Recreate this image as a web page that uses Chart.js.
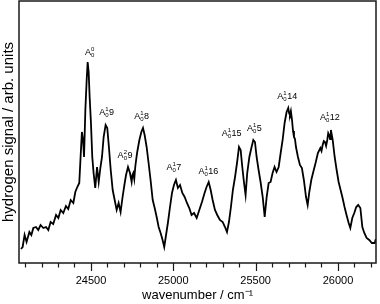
<!DOCTYPE html>
<html>
<head>
<meta charset="utf-8">
<script src="https://cdn.jsdelivr.net/npm/chart.js@4"></script>
<style>
  html, body { margin: 0; padding: 0; background: #fff; }
  #wrap { width: 380px; height: 304px; }
</style>
</head>
<body>
<div id="wrap"><canvas id="myChart"></canvas></div>
<script>
const wavenumber = [24075, 24085, 24097, 24109, 24126, 24138, 24150, 24166, 24180, 24194, 24211, 24227, 24241, 24255, 24271, 24288, 24302, 24316, 24332, 24348, 24362, 24377, 24393, 24405, 24417, 24429, 24437, 24445, 24452, 24458, 24466, 24474, 24480, 24486, 24492, 24500, 24508, 24516, 24526, 24537, 24547, 24557, 24567, 24577, 24589, 24599, 24609, 24620, 24632, 24644, 24656, 24668, 24680, 24692, 24703, 24713, 24725, 24737, 24747, 24752, 24757, 24763, 24769, 24775, 24781, 24794, 24806, 24816, 24826, 24838, 24850, 24862, 24875, 24887, 24899, 24911, 24923, 24935, 24945, 24956, 24968, 24980, 24992, 25004, 25016, 25028, 25041, 25055, 25069, 25083, 25097, 25111, 25126, 25142, 25158, 25174, 25190, 25202, 25215, 25227, 25239, 25253, 25267, 25283, 25300, 25314, 25326, 25338, 25350, 25362, 25375, 25387, 25399, 25409, 25419, 25429, 25439, 25449, 25462, 25474, 25486, 25496, 25506, 25518, 25530, 25543, 25555, 25567, 25579, 25591, 25603, 25615, 25627, 25640, 25652, 25664, 25676, 25688, 25698, 25703, 25708, 25714, 25721, 25727, 25733, 25739, 25745, 25757, 25769, 25781, 25793, 25806, 25816, 25826, 25838, 25850, 25864, 25878, 25893, 25900, 25907, 25914, 25921, 25928, 25935, 25941, 25947, 25952, 25957, 25968, 25980, 25992, 26004, 26016, 26028, 26040, 26052, 26065, 26075, 26087, 26099, 26111, 26123, 26136, 26148, 26160, 26174, 26190, 26206, 26223, 26230];
const signal = [14, 16, 28, 21, 31, 28, 35, 36, 33, 38, 35, 36, 33, 41, 39, 48, 45, 53, 50, 57, 54, 63, 60, 71, 76, 80, 106, 131, 123, 106, 153, 183, 201, 191, 166, 140, 106, 90, 75, 96, 81, 95, 106, 126, 138, 135, 116, 93, 73, 63, 53, 60, 51, 66, 78, 88, 96, 90, 81, 88, 90, 84, 96, 104, 111, 123, 131, 135, 128, 116, 100, 83, 63, 55, 46, 36, 30, 23, 16, 28, 41, 56, 70, 78, 83, 75, 78, 70, 66, 60, 55, 48, 50, 45, 53, 61, 70, 76, 81, 73, 63, 53, 48, 43, 41, 36, 31, 41, 56, 73, 86, 100, 116, 113, 96, 81, 68, 90, 106, 115, 123, 121, 106, 93, 81, 66, 46, 66, 80, 81, 90, 96, 91, 96, 110, 123, 140, 151, 155, 150, 148, 152, 143, 132, 126, 124, 116, 106, 98, 95, 83, 66, 58, 71, 83, 91, 100, 110, 115, 112, 118, 122, 121, 117, 123, 130, 128, 124, 133, 123, 106, 93, 81, 73, 65, 56, 48, 40, 35, 45, 50, 56, 58, 55, 36, 30, 25, 23, 20, 20, 24];

const xTickLabels = [24500, 25000, 25500, 26000];

const peakSup = ["0", "1", "2", "1", "1", "1", "1", "1", "1", "1"];
const peakMode = ["", "9", "9", "8", "7", "16", "15", "5", "14", "12"];
const peakX = [24494, 24595, 24707, 24808, 25004, 25213, 25354, 25492, 25692, 25951];
const peakY = [211, 151, 108, 147, 96, 92, 130, 135, 167, 146];

const points = wavenumber.map((w, i) => ({ x: w, y: signal[i] }));
const FONT = "'Liberation Sans', Arial, sans-serif";

const framePlugin = {
  id: "frame",
  afterDraw(chart) {
    const { ctx, chartArea: a } = chart;
    const xs = chart.scales.x;
    ctx.save();
    ctx.strokeStyle = "#1a1a1a";
    ctx.lineWidth = 1.5;
    ctx.strokeRect(a.left, a.top, a.right - a.left, a.bottom - a.top);
    // ticks: long at labelled values, short otherwise
    ctx.lineWidth = 1.2;
    xs.ticks.forEach(t => {
      const px = Math.round(xs.getPixelForValue(t.value)) + 0.5;
      const len = xTickLabels.includes(t.value) ? 8 : 4.5;
      ctx.beginPath();
      ctx.moveTo(px, a.bottom);
      ctx.lineTo(px, a.bottom + len);
      ctx.stroke();
    });
    // peak labels
    ctx.fillStyle = "#000";
    ctx.textBaseline = "alphabetic";
    peakX.forEach((w, i) => {
      const cx = xs.getPixelForValue(w);
      const cy = chart.scales.y.getPixelForValue(peakY[i]);
      ctx.font = "9px " + FONT;
      const wA = ctx.measureText("A").width;
      const wN = ctx.measureText(peakMode[i]).width;
      ctx.font = "6px " + FONT;
      const wS = ctx.measureText("0").width;
      const total = wA + wS + 0.5 + wN;
      let x = cx - total / 2;
      const base = cy + 3;
      ctx.font = "9px " + FONT;
      ctx.fillText("A", x, base);
      x += wA;
      ctx.font = "6px " + FONT;
      ctx.fillText(peakSup[i], x, base - 4);
      ctx.fillText("0", x, base + 1.5);
      x += wS + 0.5;
      ctx.font = "9px " + FONT;
      ctx.fillText(peakMode[i], x, base);
    });
    ctx.restore();
  }
};

const ctx = document.getElementById("myChart").getContext("2d");

new Chart(ctx, {
  type: "line",
  data: {
    datasets: [
      {
        data: points,
        borderColor: "#000",
        borderWidth: 1.8,
        pointRadius: 0,
        tension: 0,
        fill: false
      }
    ]
  },
  options: {
    responsive: true,
    maintainAspectRatio: false,
    animation: false,
    layout: { padding: { top: 1, right: 4, left: 0, bottom: 0 } },
    plugins: { legend: { display: false }, tooltip: { enabled: false } },
    scales: {
      x: {
        type: "linear",
        min: 24063,
        max: 26231,
        border: { display: false },
        grid: { drawOnChartArea: false, color: "rgba(0,0,0,0)", tickLength: 8 },
        ticks: {
          stepSize: 100,
          includeBounds: false,
          autoSkip: false,
          maxRotation: 0,
          padding: 3,
          color: "#000",
          font: { family: FONT, size: 11 },
          callback: v => (xTickLabels.includes(v) ? String(v) : "")
        },
        title: {
          display: true,
          text: "wavenumber / cm\u207B\u00B9",
          color: "#000",
          font: { family: FONT, size: 13 },
          padding: { top: 0, bottom: 1 }
        },
        afterFit: s => { s.height = 41; }
      },
      y: {
        min: 0,
        max: 262,
        border: { display: false },
        grid: { display: false },
        ticks: { display: false },
        title: {
          display: true,
          text: "hydrogen signal / arb. units",
          color: "#000",
          font: { family: FONT, size: 15 },
          padding: 0
        },
        afterFit: s => { s.width = 19; }
      }
    }
  },
  plugins: [framePlugin]
});
</script>
</body>
</html>
